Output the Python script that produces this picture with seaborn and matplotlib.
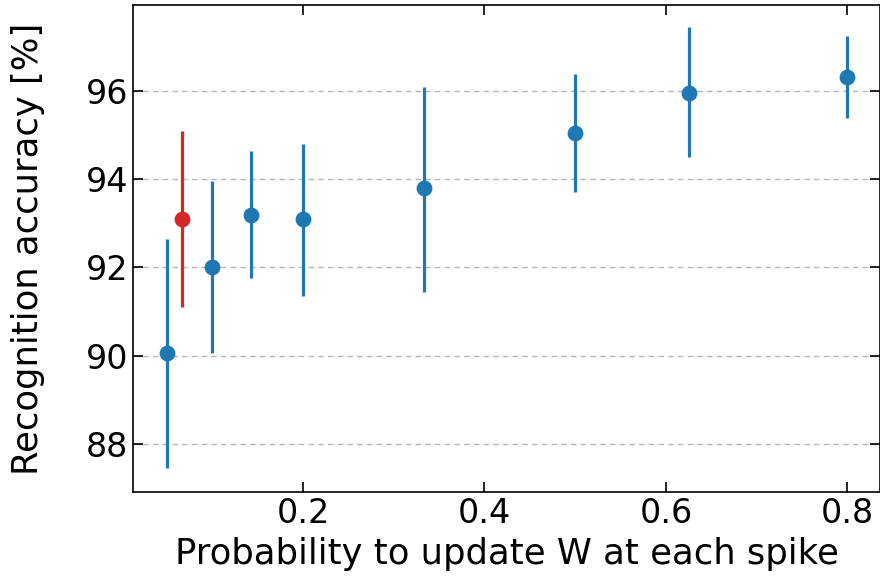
import matplotlib
matplotlib.use("Agg")
import matplotlib.pyplot as plt
import numpy as np
import seaborn as sns

# data
prob = [0.05, 0.1, 1 / 7, 0.2, 1 / 3, 0.5, 0.625, 0.8]
acc = [90.05, 92.0, 93.2, 93.1, 93.8, 95.05, 95.95, 96.32]
acc_low = [87.45, 90.05, 91.75, 91.35, 91.45, 93.7, 94.5, 95.4]
acc_high = [92.65, 93.95, 94.65, 94.8, 96.1, 96.4, 97.45, 97.25]

red_prob = [1 / 15]
red_acc = [93.1]
red_low = [91.1]
red_high = [95.1]

sns.set_style("ticks")
plt.rcParams["font.family"] = ["DejaVu Sans"]
plt.rcParams["text.color"] = "black"
plt.rcParams["axes.labelcolor"] = "black"
plt.rcParams["xtick.color"] = "black"
plt.rcParams["ytick.color"] = "black"
plt.rcParams["axes.edgecolor"] = "black"

fig, ax = plt.subplots(figsize=(8.8, 5.77), dpi=100)


def draw(x, y, lo, hi, color):
    y = np.asarray(y)
    err = [y - np.asarray(lo), np.asarray(hi) - y]
    ax.errorbar(x, y, yerr=err, fmt="none", ecolor=color, elinewidth=2.3, zorder=3)
    sns.scatterplot(x=x, y=y, ax=ax, color=color, s=130, linewidth=0, zorder=4)


draw(prob, acc, acc_low, acc_high, "#1f77b4")
draw(red_prob, red_acc, red_low, red_high, "#d62728")

ax.set_xlim(0.0125, 0.836)
ax.set_ylim(86.9, 97.95)
ax.set_xticks([0.2, 0.4, 0.6, 0.8])
ax.set_yticks([88, 90, 92, 94, 96])
ax.yaxis.grid(True, linestyle=(0, (4, 3)), color="#b5b5b5", linewidth=1.0)
ax.set_axisbelow(True)

ax.tick_params(direction="in", top=True, right=True, labelsize=24, length=7, width=1.2)
for s in ax.spines.values():
    s.set_linewidth(1.2)

ax.set_xlabel("Probability to update W at each spike", fontsize=25.5, labelpad=5)
ax.set_ylabel("Recognition accuracy [%]", fontsize=25.5, labelpad=29)

fig.subplots_adjust(left=0.151, right=1.0, top=0.991, bottom=0.147)
fig.savefig("out.png", dpi=100)
